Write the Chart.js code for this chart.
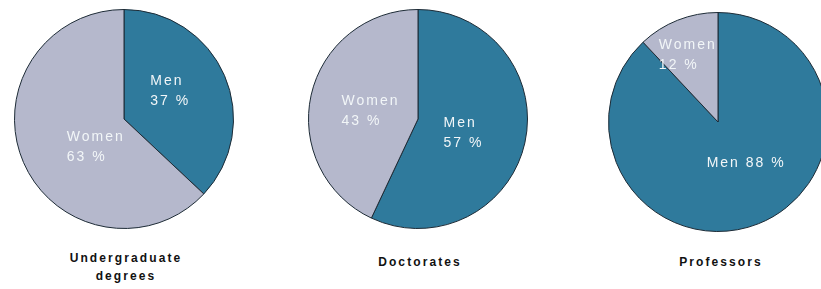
<!DOCTYPE html>
<html>
<head>
<meta charset="utf-8">
<script src="https://cdn.jsdelivr.net/npm/chart.js@4"></script>
<style>
  html, body { margin: 0; padding: 0; background: #fff; overflow: hidden; }
  body { width: 821px; height: 289px; position: relative; font-family: Arial, "Liberation Sans", sans-serif; }
  .pie { position: absolute; width: 226px; height: 220px; }
  .title { position: absolute; width: 200px; text-align: center; font-weight: bold; font-size: 12px;
           letter-spacing: 2.1px; line-height: 18px; color: #111; }
</style>
</head>
<body>
<div class="pie" style="left:11px; top:9px;"><canvas id="c0"></canvas></div>
<div class="pie" style="left:305px; top:9px;"><canvas id="c1"></canvas></div>
<div class="pie" style="left:605px; top:12px;"><canvas id="c2"></canvas></div>
<div class="title" style="left:26px; top:249px;">Undergraduate<br>degrees</div>
<div class="title" style="left:320px; top:253px;">Doctorates</div>
<div class="title" style="left:621px; top:253px;">Professors</div>

<script>
let groups = ["Undergraduate degrees", "Doctorates", "Professors"];
let labels = ["Men", "Women"];
let menShare = [37, 57, 88];
let womenShare = [63, 43, 12];

let colors = ["#2f7a9c", "#b5b8cc"];
// how each slice label is written: two lines, except "Men 88 %"
let oneLine = [[false, false], [false, false], [true, false]];
// small pushes so labels sit where the original ones do
let nudge = [
  [[-4, -6], [22, 6]],
  [[-8, 2], [6, 4]],
  [[8, -10], [-10, -16]]
];

const sliceLabels = {
  id: "sliceLabels",
  afterDatasetsDraw(chart, args, opts) {
    let ctx = chart.ctx;
    let meta = chart.getDatasetMeta(0);
    let ds = chart.data.datasets[0];
    ctx.save();
    ctx.font = "14px Arial, 'Liberation Sans', sans-serif";
    ctx.letterSpacing = "2px";
    ctx.fillStyle = "#f2f6f8";
    ctx.textBaseline = "middle";
    ctx.textAlign = "left";
    meta.data.forEach((arc, i) => {
      let p = arc.tooltipPosition();
      let text = chart.data.labels[i];
      let val = ds.data[i] + " %";
      let lines = opts.oneLine[i] ? [text + " " + val] : [text, val];
      let w = Math.max(...lines.map(l => ctx.measureText(l).width));
      let x = p.x + opts.nudge[i][0] - w / 2;
      let y = p.y + opts.nudge[i][1] - (lines.length - 1) * 10;
      lines.forEach((l, k) => ctx.fillText(l, x, y + k * 20));
    });
    ctx.restore();
  }
};

function makePie(id, idx) {
  let ctx = document.getElementById(id).getContext("2d");
  new Chart(ctx, {
    type: "pie",
    data: {
      labels: labels,
      datasets: [{
        label: groups[idx],
        data: [menShare[idx], womenShare[idx]],
        backgroundColor: colors,
        borderColor: "#1d2b36",
        borderWidth: 1
      }]
    },
    options: {
      responsive: true,
      maintainAspectRatio: false,
      animation: false,
      layout: { padding: 0 },
      plugins: {
        legend: { display: false },
        tooltip: { enabled: false },
        sliceLabels: { oneLine: oneLine[idx], nudge: nudge[idx] }
      }
    },
    plugins: [sliceLabels]
  });
}

makePie("c0", 0);
makePie("c1", 1);
makePie("c2", 2);
</script>
</body>
</html>
